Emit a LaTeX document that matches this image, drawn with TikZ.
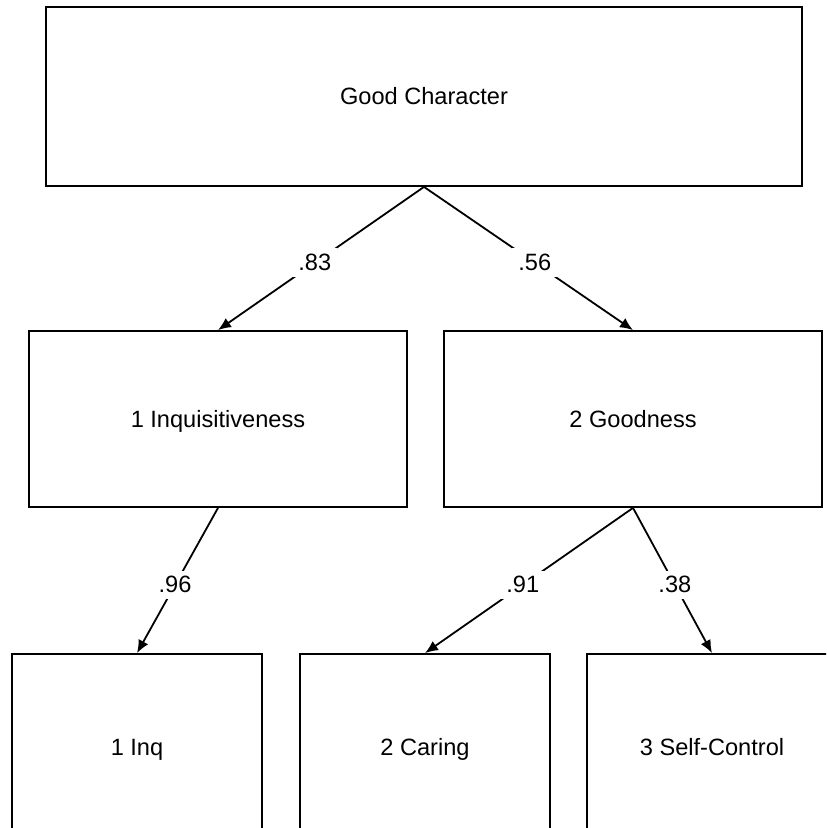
\documentclass[tikz,border=0pt]{standalone}
\usepackage{fontspec}
\setmainfont{Liberation Sans}
\usetikzlibrary{arrows.meta}
\begin{document}
\begin{tikzpicture}[x=0.5pt,y=-0.5pt, line width=0.9pt,
        every node/.style={font=\fontsize{11.8}{13}\selectfont},
        box/.style={draw, rectangle, inner sep=0pt, text height=8.5pt, text depth=0pt},
        path/.style={-{Latex[length=6.5pt,width=5.5pt]}},
        coef/.style={fill=white, inner sep=3pt, pos=0.53}]
    \useasboundingbox (0,0) rectangle (826,828);
    \clip (0,0) rectangle (826,828);
    \node[box, minimum width=378pt, minimum height=89.5pt] (good) at (424,96.5) {Good Character};
    \node[box, minimum width=189pt, minimum height=88pt] (inq) at (218,419) {1 Inquisitiveness};
    \node[box, minimum width=189pt, minimum height=88pt] (goodness) at (633,419) {2 Goodness};
    \node[box, minimum width=125pt, minimum height=93pt] (inqi) at (137,747) {1 Inq};
    \node[box, minimum width=125pt, minimum height=93pt] (caring) at (425,747) {2 Caring};
    \node[box, minimum width=125pt, minimum height=93pt] (selfc) at (712,747) {3 Self-Control};
    \draw[path] (good.south) -- (inq.north) node[coef]{.83};
    \draw[path] (good.south) -- (goodness.north) node[coef]{.56};
    \draw[path] (inq.south) -- (inqi.north) node[coef]{.96};
    \draw[path] (goodness.south) -- (caring.north) node[coef]{.91};
    \draw[path] (goodness.south) -- (selfc.north) node[coef]{.38};
\end{tikzpicture}
\end{document}
